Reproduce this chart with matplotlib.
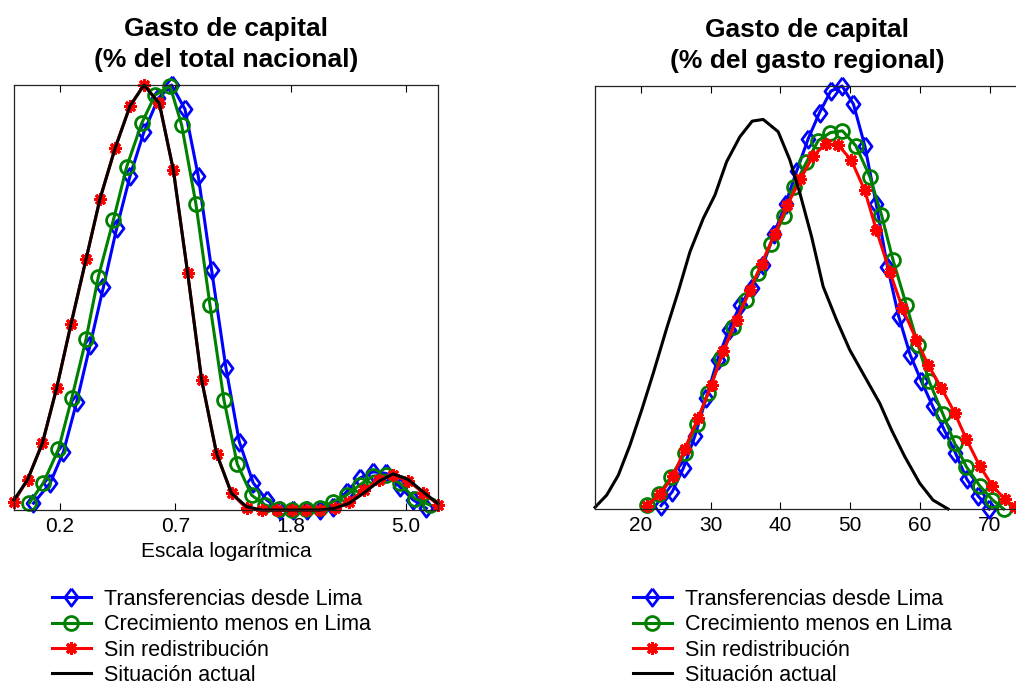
import matplotlib.pyplot as plt
import numpy as np

plt.rcParams['font.family'] = ['Liberation Sans', 'DejaVu Sans']

# ---- left panel: % del total nacional (x in log-scale tick units, y normalised density)
log_ticks = [0, 1, 2, 3]
log_labels = ['0.2', '0.7', '1.8', '5.0']

nac_trans_x = [-0.231, -0.087, 0.029, 0.145, 0.260, 0.376, 0.491, 0.607, 0.728, 0.853,
               0.968, 1.084, 1.199, 1.315, 1.439, 1.555, 1.676, 1.792, 1.908, 2.023,
               2.139, 2.254, 2.370, 2.486, 2.601, 2.717, 2.832, 2.948, 3.064, 3.179]
nac_trans_y = [0.016, 0.063, 0.137, 0.255, 0.388, 0.525, 0.663, 0.786, 0.890, 0.969,
               1.000, 0.943, 0.786, 0.565, 0.335, 0.161, 0.064, 0.024, 0.000, 0.000,
               0.000, 0.000, 0.008, 0.043, 0.075, 0.090, 0.086, 0.055, 0.024, 0.004]

nac_crec_x = [-0.266, -0.145, -0.014, 0.101, 0.225, 0.332, 0.462, 0.578, 0.708, 0.824,
              0.954, 1.055, 1.179, 1.301, 1.422, 1.538, 1.662, 1.777, 1.902, 2.017,
              2.133, 2.254, 2.370, 2.486, 2.601, 2.717, 2.832, 2.948, 3.078, 3.208]
nac_crec_y = [0.017, 0.064, 0.143, 0.263, 0.402, 0.549, 0.682, 0.808, 0.910, 0.976,
              0.998, 0.906, 0.720, 0.482, 0.259, 0.108, 0.035, 0.012, 0.002, 0.000,
              0.002, 0.004, 0.020, 0.035, 0.059, 0.080, 0.082, 0.063, 0.027, 0.012]

nac_sin_x = [-0.400, -0.283, -0.153, -0.029, 0.095, 0.225, 0.347, 0.477, 0.607, 0.728,
             0.861, 0.983, 1.107, 1.228, 1.358, 1.488, 1.618, 1.749, 1.879, 2.009,
             2.133, 2.254, 2.384, 2.509, 2.636, 2.769, 2.890, 3.020, 3.150, 3.280]
nac_sin_y = [0.020, 0.071, 0.158, 0.288, 0.438, 0.590, 0.733, 0.851, 0.951, 1.000,
             0.957, 0.800, 0.558, 0.307, 0.133, 0.039, 0.004, 0.000, 0.000, 0.000,
             0.000, 0.000, 0.004, 0.020, 0.047, 0.071, 0.082, 0.069, 0.041, 0.013]

nac_actual_x = nac_sin_x
nac_actual_y = [0.024, 0.071, 0.158, 0.288, 0.438, 0.590, 0.733, 0.851, 0.951, 1.000,
                0.957, 0.800, 0.558, 0.307, 0.133, 0.039, 0.008, 0.000, 0.000, 0.000,
                0.000, 0.000, 0.004, 0.016, 0.040, 0.068, 0.085, 0.072, 0.043, 0.015]

# ---- right panel: % del gasto regional
reg_ticks = [20, 30, 40, 50, 60, 70]

reg_trans_x = [22.87, 24.49, 26.11, 27.74, 29.36, 30.98, 32.61, 34.23, 35.85, 37.48,
               39.10, 40.73, 42.35, 43.97, 45.60, 47.22, 48.84, 50.47, 52.09, 53.72,
               55.34, 56.96, 58.59, 60.21, 61.83, 63.46, 65.08, 66.71, 68.33, 69.95]
reg_trans_y = [0.008, 0.041, 0.098, 0.173, 0.263, 0.353, 0.424, 0.482, 0.522, 0.576,
               0.651, 0.722, 0.800, 0.875, 0.937, 0.988, 1.000, 0.957, 0.859, 0.722,
               0.573, 0.455, 0.365, 0.302, 0.243, 0.188, 0.133, 0.071, 0.031, 0.000]

reg_crec_x = [20.81, 22.58, 24.25, 26.30, 27.98, 29.65, 31.41, 33.23, 34.99, 36.81,
              38.58, 40.49, 41.92, 43.73, 45.41, 47.17, 48.89, 50.80, 52.81, 54.48,
              56.15, 58.06, 59.73, 61.31, 63.31, 64.99, 66.66, 68.57, 70.38, 72.01]
reg_crec_y = [0.009, 0.035, 0.075, 0.132, 0.202, 0.275, 0.357, 0.431, 0.494, 0.557,
              0.627, 0.692, 0.761, 0.820, 0.871, 0.890, 0.894, 0.859, 0.786, 0.696,
              0.588, 0.482, 0.388, 0.302, 0.224, 0.155, 0.100, 0.055, 0.022, 0.000]

reg_sin_x = [20.81, 22.72, 24.63, 26.30, 28.21, 30.12, 31.80, 33.71, 35.62, 37.29,
             39.20, 40.96, 42.87, 44.69, 46.50, 48.27, 50.18, 52.09, 53.76, 55.67,
             57.49, 59.49, 61.17, 63.08, 64.99, 66.66, 68.57, 70.38, 72.15, 73.58]
reg_sin_y = [0.008, 0.035, 0.077, 0.143, 0.216, 0.294, 0.373, 0.447, 0.518, 0.580,
             0.651, 0.718, 0.780, 0.835, 0.863, 0.861, 0.824, 0.753, 0.659, 0.561,
             0.475, 0.400, 0.341, 0.286, 0.227, 0.165, 0.102, 0.055, 0.024, 0.004]

reg_actual_x = [13.41, 15.09, 16.75, 18.42, 20.10, 21.76, 23.68, 25.34, 27.02, 28.93,
                30.60, 32.28, 34.18, 35.95, 37.52, 39.67, 41.35, 42.78, 44.46, 46.12,
                48.04, 49.94, 52.09, 54.24, 55.92, 57.82, 59.97, 61.88, 64.03]
reg_actual_y = [0.004, 0.033, 0.080, 0.151, 0.234, 0.321, 0.427, 0.514, 0.608, 0.687,
                0.742, 0.821, 0.880, 0.917, 0.921, 0.892, 0.825, 0.747, 0.644, 0.526,
                0.447, 0.376, 0.313, 0.250, 0.187, 0.124, 0.061, 0.021, 0.000]

names = ['Transferencias desde Lima', 'Crecimiento menos en Lima',
         'Sin redistribución', 'Situación actual']

diamond = [(0, 1), (0.75, 0), (0, -1), (-0.75, 0), (0, 1)]
styles = [
    dict(color='#0000ff', marker=diamond, ms=12.5, mfc='none', mew=2.0),
    dict(color='#008000', marker='o', ms=10, mfc='none', mew=2.0),
    dict(color='#ff0000', marker=(8, 2, 0), ms=9, mew=2.2),
    dict(color='black'),
]

fig = plt.figure(figsize=(10.16, 6.87), dpi=100)
ax1 = fig.add_axes([0.0138, 0.2576, 0.4173, 0.6186])
ax2 = fig.add_axes([0.5856, 0.2591, 0.4173, 0.6157])

left = [(nac_trans_x, nac_trans_y), (nac_crec_x, nac_crec_y),
        (nac_sin_x, nac_sin_y), (nac_actual_x, nac_actual_y)]
right = [(reg_trans_x, reg_trans_y), (reg_crec_x, reg_crec_y),
         (reg_sin_x, reg_sin_y), (reg_actual_x, reg_actual_y)]

for ax, series in [(ax1, left), (ax2, right)]:
    for (x, y), st, name in zip(series, styles, names):
        ax.plot(x, y, lw=2.2, label=name, clip_on=False, **st)
    ax.set_ylim(0, 1)
    ax.set_yticks([])
    ax.tick_params(axis='x', direction='in', top=True, length=5, labelsize=15, pad=5)
    for s in ax.spines.values():
        s.set_linewidth(0.9)
        s.set_color('#222222')

ax1.set_xlim(-0.40, 3.28)
ax1.set_xticks(log_ticks)
ax1.set_xticklabels(log_labels)
ax1.set_xlabel('Escala logarítmica', fontsize=15, labelpad=4)
ax1.set_title('Gasto de capital\n(% del total nacional)', fontsize=19,
              fontweight='bold', pad=13, linespacing=1.35)

ax2.set_xlim(13.4, 74.2)
ax2.set_xticks(reg_ticks)
ax2.set_title('Gasto de capital\n(% del gasto regional)', fontsize=19,
              fontweight='bold', pad=13, linespacing=1.35)

for ax, x0 in [(ax1, 52), (ax2, 633)]:
    h, l = ax.get_legend_handles_labels()
    fig.legend(h, l, loc='upper left', bbox_to_anchor=(x0 / 1016, 1 - 589 / 687),
               frameon=False, borderpad=0, borderaxespad=0, handlelength=1.8,
               handletextpad=0.6, labelspacing=0.2, fontsize=15.5)

fig.savefig('out.png', dpi=100)
